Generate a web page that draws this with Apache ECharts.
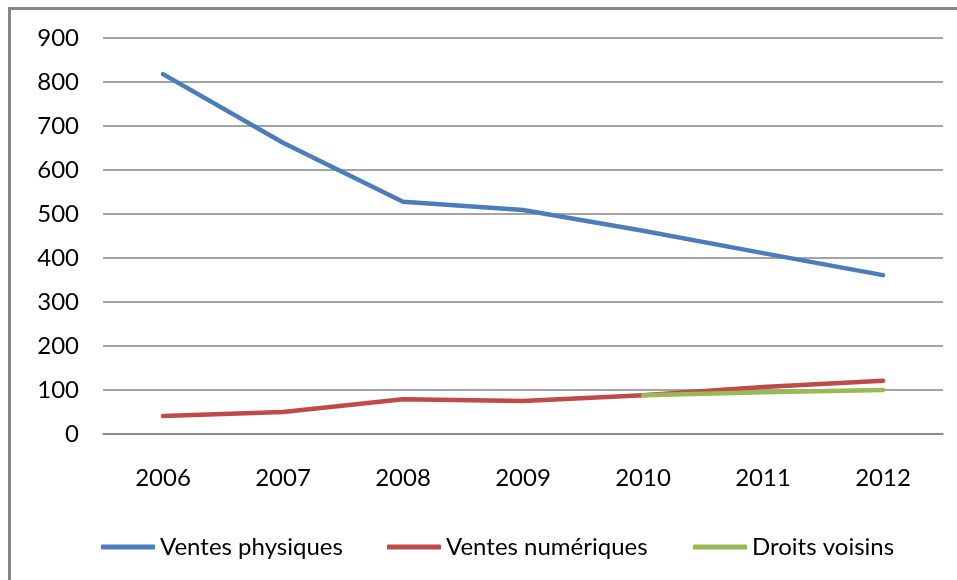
<!DOCTYPE html>
<html>
<head>
<meta charset="utf-8">
<script src="https://cdn.jsdelivr.net/npm/echarts@6/dist/echarts.min.js"></script>
<style>
  html, body { margin: 0; padding: 0; background: #fff; }
  #chart { width: 957px; height: 580px; }
</style>
</head>
<body>
<div id="chart"></div>
<script>
const years = ['2006', '2007', '2008', '2009', '2010', '2011', '2012'];
const ventesPhysiques = [818, 662, 528, 509, 462, 411, 361];
const ventesNumeriques = [41, 50, 79, 75, 88, 107, 121];
const droitsVoisins = [null, null, null, null, 88, 95, 100];

const seriesNames = ['Ventes physiques', 'Ventes numériques', 'Droits voisins'];
const colors = ['#4a7ebb', '#be4b48', '#98b954'];

const font = 'Lato';

const chart = echarts.init(document.getElementById('chart'), null, { renderer: 'canvas' });

function lineSeries(name, data, color) {
    return {
        name: name,
        type: 'line',
        data: data,
        symbol: 'none',
        color: color,
        lineStyle: { width: 4.5, color: color, cap: 'round', join: 'round' }
    };
}

// one legend per item so each sits where it does in the original
const legendLeft = [96, 382, 688];
const legends = seriesNames.map((name, i) => ({
    left: legendLeft[i],
    top: 530,
    icon: 'roundRect',
    itemWidth: 54,
    itemHeight: 5,
    textStyle: { color: '#000', fontSize: 24, fontFamily: font },
    data: [name]
}));

const option = {
    animation: false,
    backgroundColor: '#fff',
    textStyle: { fontFamily: font },
    grid: {
        left: 103,
        right: 14,
        top: 38,
        bottom: 146
    },
    xAxis: {
        type: 'category',
        data: years,
        boundaryGap: true,
        axisTick: { show: false },
        axisLine: { lineStyle: { color: '#868686', width: 1.5 } },
        axisLabel: { color: '#000', fontSize: 24, fontFamily: font, margin: 32 }
    },
    yAxis: {
        type: 'value',
        min: 0,
        max: 900,
        interval: 100,
        axisLine: { show: false },
        axisTick: { show: false },
        splitLine: { lineStyle: { color: '#868686', width: 1.5 } },
        axisLabel: { color: '#000', fontSize: 24, fontFamily: font, margin: 24 }
    },
    legend: legends,
    graphic: [
        {
            type: 'rect',
            shape: { x: 9.5, y: 8.5, width: 1200, height: 1200 },
            style: { fill: 'none', stroke: '#878787', lineWidth: 3 },
            silent: true
        }
    ],
    series: [
        lineSeries(seriesNames[0], ventesPhysiques, colors[0]),
        lineSeries(seriesNames[1], ventesNumeriques, colors[1]),
        lineSeries(seriesNames[2], droitsVoisins, colors[2])
    ]
};

chart.setOption(option);
</script>
</body>
</html>
